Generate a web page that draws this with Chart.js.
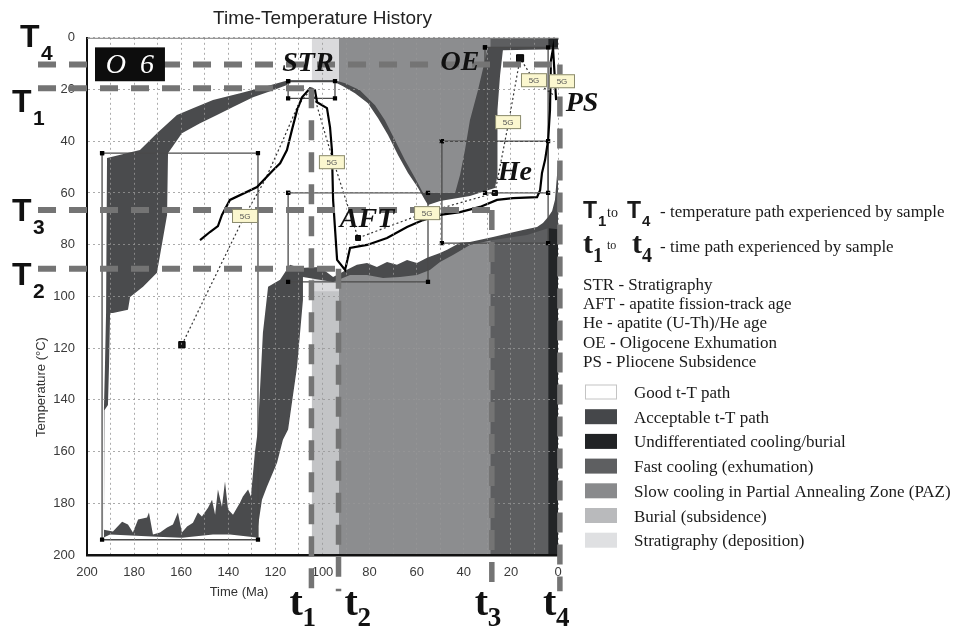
<!DOCTYPE html>
<html>
<head>
<meta charset="utf-8">
<title>Time-Temperature History</title>
<script src="https://cdn.jsdelivr.net/npm/chart.js@4.4.1/dist/chart.umd.min.js"></script>
<style>
  html, body { margin: 0; padding: 0; background: #fff; }
  #wrap { position: relative; width: 953px; height: 627px; }
</style>
</head>
<body>
<div id="wrap"><canvas id="ttChart"></canvas></div>
<script>
// Time-temperature history (HeFTy style) - values in Ma and degrees C

// Tick labels
const timeTicks = [200, 180, 160, 140, 120, 100, 80, 60, 40, 20, 0];
const tempTicks = [0, 20, 40, 60, 80, 100, 120, 140, 160, 180, 200];

// Interpreted zones (background columns)
const zoneNames = ['Stratigraphy (deposition)', 'Burial (subsidence)', 'Slow cooling in Partial Annealing Zone (PAZ)', 'Fast cooling (exhumation)', 'Undifferentiated cooling/burial'];
const zoneFrom = [104.5, 104.5, 93.0, 28.8, 4.2];
const zoneTo = [93.0, 93.0, 28.8, 4.2, 0];
const zoneTempTop = [0, 98, 0, 0, 0];
const zoneTempBottom = [200, 200, 200, 200, 200];
const zoneColors = ['#dadadc', '#c3c4c6', '#8c8d8f', '#5d5e60', '#232527'];

// Acceptable t-T path envelope (outer boundary)
const acceptTime = [191.5, 177.5, 170.3, 161.8, 155.0, 146.5, 135.0, 125.3, 114.6, 94.7, 90.4, 84.1, 77.7, 73.5, 69.2, 65.0, 60.7, 57.3,
  43.7, 41.6, 39.5, 37.4, 34.0, 31.0, 29.7, 0, 0, 4.2, 13.2, 27.6, 37.4, 44.6, 50.1, 54.4, 59.9, 67.1, 74.3, 81.1, 88.3, 95.5,
  108.3, 108.3, 110.8, 114.6, 116.8, 119.3, 123.6, 125.7, 127.4, 127.4, 130.8, 139.3, 146.5, 159.7, 170.3, 190.2, 193.2,
  192.8, 192.4, 191.9];
const acceptTemp = [46.5, 43.4, 36.9, 29.9, 27.2, 24.1, 21.4, 19.1, 16.4, 16.4, 17.6, 20.3, 26.1, 31.9, 39.6, 47.3, 54.2, 60.0,
  60.0, 53.1, 43.4, 31.9, 20.3, 8.7, 3.7, 3.7, 74.0, 73.6, 76.3, 78.2, 80.1, 84.0, 86.7, 89.8, 91.7, 92.5, 92.9, 91.7, 91.7, 94.4,
  92.5, 101.4, 127.2, 151.5, 155.4, 164.3, 173.6, 178.6, 189.0, 193.3, 192.9, 192.1, 192.1, 193.3, 192.9, 192.1, 193.3,
  143.0, 128.0, 106.0];

// Good t-T path envelope
const goodTime = [192.8, 192.6, 191.1, 190.6, 190.2, 189.0, 182.6, 181.7, 176.2, 170.3, 166.0, 165.6, 159.7, 152.0, 144.8, 138.0,
  129.5, 121.0, 115.1, 114.6, 94.7, 91.3, 86.2, 80.7, 76.4, 72.2, 67.9, 63.7, 59.4, 56.5, 55.2, 50.1, 37.4, 26.8, 25.9, 25.9,
  25.5, 24.6, 23.4, 0, 0, 1.3, 2.5, 4.2, 6.4, 8.9, 14.9, 20.4, 27.6, 37.4, 41.6, 47.1, 50.1, 55.6, 59.9, 64.1, 68.4, 72.6,
  76.9, 81.1, 85.4, 91.3, 95.5, 101.1, 109.6, 113.8, 118.0, 123.1, 125.3, 127.4, 128.7, 130.4,
  131.6, 133.8, 135.0, 136.3, 138.0, 140.1, 141.4, 142.7, 144.4, 145.6, 146.9, 148.6, 151.2, 152.9, 155.0, 157.5, 159.7,
  161.4, 163.5, 166.0, 169.0, 172.0, 173.7, 174.5, 178.3, 180.5, 182.6, 185.1, 189.0];
const goodTemp = [190.2, 144.0, 142.0, 125.0, 106.4, 106.4, 105.2, 100.2, 96.3, 90.9, 68.5, 44.6, 36.9, 33.0, 29.9, 26.8,
  23.0, 20.3, 18.3, 17.2, 17.2, 18.7, 21.4, 25.3, 31.1, 37.6, 45.4, 52.3, 58.1, 62.7, 64.7, 63.1, 61.2, 58.1, 54.2, 43.4,
  27.9, 14.5, 4.8, 4.4, 48.5, 62.7, 67.0, 69.3, 71.6, 73.2, 74.3, 75.5, 77.0, 79.0, 79.3, 82.0, 83.2, 85.1, 87.1, 85.9, 87.8, 86.7,
  88.6, 87.1, 87.8, 90.5, 92.5, 88.6, 89.0, 87.8, 93.6, 96.3, 114.1, 151.5, 160.4, 177.4,
  174.7, 177.4, 179.7, 181.7, 184.4, 182.4, 171.6, 181.3, 174.7, 184.4, 178.6, 181.7, 185.1, 183.6, 187.5, 189.0, 191.3,
  183.6, 188.2, 189.4, 191.3, 192.1, 183.6, 185.5, 186.3, 191.3, 188.2, 187.1, 190.9];

// Constraint boxes
const boxNames = ['Initial', 'STR', 'AFT', 'He', 'OE'];
const boxTimeOld = [193.6, 114.6, 114.6, 49.3, 31.0];
const boxTimeYoung = [127.4, 94.7, 55.2, 4.2, 4.2];
const boxTempLow = [44.6, 16.8, 60.0, 40.0, 3.7];
const boxTempHigh = [194.1, 23.4, 94.4, 79.4, 60.0];

// Best-fit path
const bestTime = [152.0, 147.8, 144.4, 142.7, 139.3, 127.8, 121.0, 118.0, 115.1, 113.0, 110.8, 108.7, 105.3, 103.2, 102.3, 98.1,
  96.8, 96.0, 95.5, 93.8, 90.4, 88.3, 81.1, 72.6, 64.1, 57.3, 50.1, 41.6, 33.1, 25.9, 19.1, 8.9, 7.6, 6.8, 5.5, 4.2, 3.4, 3.0, 2.1, 0.8];
const bestTemp = [78.2, 75.1, 72.8, 68.5, 62.7, 57.7, 51.2, 48.5, 43.4, 35.7, 28.0, 23.0, 19.5, 20.3, 24.9, 27.2,
  34.6, 43.4, 62.7, 85.9, 89.8, 81.3, 80.1, 77.4, 73.2, 70.5, 68.5, 67.4, 65.4, 62.7, 62.0, 61.6, 58.9, 52.3, 47.3, 39.6, 28.0, 8.7, 4.1, 24.1];

// Weighted mean (dotted) path and its fixed points
const meanTime = [159.7, 132.9, 124.4, 116.8, 110.4, 104.5, 98.1, 95.5, 84.9, 55.6, 26.8, 21.2, 16.1, 10.2, 2.1];
const meanTemp = [118.7, 68.5, 55.0, 39.6, 26.1, 19.5, 39.6, 47.3, 77.4, 67.4, 60.0, 33.8, 7.9, 16.4, 22.0];
const nodeTime = [159.7, 84.9, 26.8, 16.1];
const nodeTemp = [118.7, 77.4, 60.0, 7.9];
const nodeSize = [4.5, 3.5, 3.5, 5];

// "5G" fit labels
const fitTime = [132.9, 96.0, 55.6, 21.2, 10.2, -1.7];
const fitTemp = [68.9, 48.1, 67.8, 32.6, 16.4, 16.8];

// T1..T4 temperatures and t1..t4 times experienced by sample
const pathTemps = [19.5, 89.3, 66.6, 10.3];
const pathTimes = [104.7, 93.2, 28.1, -0.8];

// Event notes
const noteLabels = ['STR', 'OE', 'PS', 'He', 'AFT'];
const noteTime = [106.2, 41.6, -10.2, 18.3, 81.1];
const noteTemp = [10.2, 9.8, 25.7, 52.3, 70.5];

// Sample tag
const sampleName = 'O  6';
const sampleBoxTime = [196.6, 166.9];
const sampleBoxTemp = [3.7, 16.8];

// Right hand key
const abbrevText = ['STR - Stratigraphy', 'AFT - apatite fission-track age', 'He - apatite (U-Th)/He age',
  'OE - Oligocene Exhumation', 'PS - Pliocene Subsidence'];
const legendLabels = ['Good t-T path', 'Acceptable t-T path', 'Undifferentiated cooling/burial', 'Fast cooling (exhumation)',
  'Slow cooling in Partial Annealing Zone (PAZ)', 'Burial (subsidence)', 'Stratigraphy (deposition)'];
const legendColors = ['#ffffff', '#45474a', '#212325', '#5e5f61', '#898a8c', '#b9babc', '#dfe0e2'];

// layout constants (pixels) for the decorations
const GUIDE_START_TIME = 220.8;
const GUIDE_END_TEMP = 214;
const tempLabelX = [12, 12, 12, 20];
const tempLabelShift = [24, 16, 11, -17];
const timeLabelShift = [-22, 6, -17, -17];

function toPoints(times, temps) {
  return times.map((t, i) => ({ x: t, y: temps[i] }));
}

function rectPoints(x0, x1, y0, y1) {
  return [{ x: x0, y: y0 }, { x: x1, y: y0 }, { x: x1, y: y1 }, { x: x0, y: y1 }, { x: x0, y: y0 }];
}

function areaDataset(label, data, color) {
  return {
    label: label,
    data: data,
    fill: 'shape',
    backgroundColor: color,
    borderWidth: 0,
    pointRadius: 0,
    tension: 0
  };
}

function buildDatasets() {
  const layers = [];
  // background zones
  zoneNames.forEach((name, i) => {
    layers.push(areaDataset(name, rectPoints(zoneFrom[i], zoneTo[i], zoneTempTop[i], zoneTempBottom[i]), zoneColors[i]));
  });
  // envelopes
  layers.push(areaDataset('Acceptable t-T path', toPoints(acceptTime, acceptTemp), '#4a4b4d'));
  layers.push(areaDataset('Good t-T path', toPoints(goodTime, goodTemp), '#ffffff'));
  // constraint boxes
  boxNames.forEach((name, i) => {
    layers.push({
      label: name,
      data: rectPoints(boxTimeOld[i], boxTimeYoung[i], boxTempLow[i], boxTempHigh[i]),
      fill: false,
      borderColor: '#4a4a4a',
      borderWidth: 1.3,
      pointStyle: 'rect',
      pointRadius: 3,
      pointBackgroundColor: '#000',
      pointBorderWidth: 0,
      tension: 0
    });
  });
  // dotted mean path
  layers.push({
    label: 'Mean path',
    data: toPoints(meanTime, meanTemp),
    fill: false,
    borderColor: '#333',
    borderWidth: 1.2,
    borderDash: [2, 2.5],
    pointRadius: 0,
    tension: 0
  });
  // best fit path
  layers.push({
    label: 'Best fit',
    data: toPoints(bestTime, bestTemp),
    fill: false,
    borderColor: '#000',
    borderWidth: 2.2,
    pointRadius: 0,
    tension: 0
  });
  layers.push({
    label: 'Nodes',
    data: toPoints(nodeTime, nodeTemp),
    showLine: false,
    pointStyle: 'rect',
    pointRadius: nodeSize,
    pointBackgroundColor: '#111',
    pointBorderColor: '#000',
    pointBorderWidth: 1
  });
  // first in list is bottom layer
  layers.forEach((d, i) => { d.order = layers.length - i; });
  return layers;
}

// Draws the guide lines, notes, labels and the key
const overlayPlugin = {
  id: 'ttOverlay',
  afterDraw(chart) {
    const ctx = chart.ctx;
    const X = v => chart.scales.x.getPixelForValue(v);
    const Y = v => chart.scales.y.getPixelForValue(v);
    const area = chart.chartArea;
    ctx.save();

    // thin top frame
    ctx.strokeStyle = '#808080';
    ctx.lineWidth = 1;
    ctx.beginPath();
    ctx.moveTo(area.left, area.top + 0.5);
    ctx.lineTo(area.right, area.top + 0.5);
    ctx.stroke();

    // T / t guide lines
    ctx.strokeStyle = '#747474';
    ctx.lineCap = 'butt';
    for (let i = 0; i < pathTemps.length; i++) {
      const yy = Y(pathTemps[i]);
      const xx = X(pathTimes[i]);
      ctx.lineWidth = 6;
      ctx.setLineDash([18, 13]);
      ctx.beginPath();
      ctx.moveTo(X(GUIDE_START_TIME), yy);
      ctx.lineTo(xx, yy);
      ctx.stroke();
      ctx.lineWidth = 5.5;
      ctx.setLineDash([20, 12]);
      ctx.beginPath();
      ctx.moveTo(xx, yy);
      ctx.lineTo(xx, Y(GUIDE_END_TEMP));
      ctx.stroke();
    }
    ctx.setLineDash([]);

    // 5G labels
    ctx.textAlign = 'center';
    ctx.textBaseline = 'middle';
    ctx.font = '8px "Liberation Sans"';
    for (let i = 0; i < fitTime.length; i++) {
      const cx = X(fitTime[i]), cy = Y(fitTemp[i]);
      ctx.fillStyle = '#fbf7cf';
      ctx.fillRect(cx - 13, cy - 7, 26, 14);
      ctx.strokeStyle = '#8a8a6e';
      ctx.lineWidth = 1;
      ctx.strokeRect(cx - 13 + 0.5, cy - 7 + 0.5, 25, 13);
      ctx.fillStyle = '#555';
      ctx.fillText('5G', cx, cy + 0.5);
    }

    // sample tag
    const bx0 = X(sampleBoxTime[0]), bx1 = X(sampleBoxTime[1]);
    const by0 = Y(sampleBoxTemp[0]), by1 = Y(sampleBoxTemp[1]);
    ctx.fillStyle = '#0d0d0d';
    ctx.fillRect(bx0, by0, bx1 - bx0, by1 - by0);
    ctx.fillStyle = '#fff';
    ctx.font = 'italic 28px "Liberation Serif"';
    ctx.fillText(sampleName, (bx0 + bx1) / 2, (by0 + by1) / 2 + 1);

    // event notes
    ctx.fillStyle = '#111';
    ctx.font = 'bold italic 28px "Liberation Serif"';
    for (let i = 0; i < noteLabels.length; i++) {
      ctx.fillText(noteLabels[i], X(noteTime[i]), Y(noteTemp[i]));
    }

    // axis titles
    ctx.fillStyle = '#333';
    ctx.font = '13px "Liberation Sans"';
    ctx.fillText('Time (Ma)', 239, 592);
    ctx.save();
    ctx.translate(41, 387);
    ctx.rotate(-Math.PI / 2);
    ctx.fillText('Temperature (\u00b0C)', 0, 0);
    ctx.restore();

    // T labels
    ctx.textAlign = 'left';
    ctx.textBaseline = 'alphabetic';
    ctx.fillStyle = '#111';
    for (let i = 0; i < pathTemps.length; i++) {
      const base = Y(pathTemps[i]) + tempLabelShift[i];
      ctx.font = 'bold 32px "Liberation Sans"';
      ctx.fillText('T', tempLabelX[i], base);
      ctx.font = 'bold 21px "Liberation Sans"';
      ctx.fillText(String(i + 1), tempLabelX[i] + 21, base + 13);
    }
    // t labels
    for (let i = 0; i < pathTimes.length; i++) {
      const lx = X(pathTimes[i]) + timeLabelShift[i];
      ctx.font = 'bold 40px "Liberation Serif"';
      ctx.fillText('t', lx, 615);
      ctx.font = 'bold 27px "Liberation Serif"';
      ctx.fillText(String(i + 1), lx + 13, 626);
    }

    // key: T1 to T4 / t1 to t4
    ctx.fillStyle = '#1a1a1a';
    ctx.font = 'bold 23px "Liberation Sans"';
    ctx.fillText('T', 583, 218);
    ctx.fillText('T', 627, 218);
    ctx.font = 'bold 15px "Liberation Sans"';
    ctx.fillText('1', 598, 226);
    ctx.fillText('4', 642, 226);
    ctx.font = '14px "Liberation Serif"';
    ctx.fillText('to', 607, 217);
    ctx.font = '17px "Liberation Serif"';
    ctx.fillText('- temperature path experienced by sample', 660, 217);

    ctx.font = 'bold 30px "Liberation Serif"';
    ctx.fillText('t', 583, 253);
    ctx.fillText('t', 632, 253);
    ctx.font = 'bold 20px "Liberation Serif"';
    ctx.fillText('1', 593, 262);
    ctx.fillText('4', 642, 262);
    ctx.font = '12px "Liberation Serif"';
    ctx.fillText('to', 607, 249);
    ctx.font = '17px "Liberation Serif"';
    ctx.fillText('- time path experienced by sample', 660, 252);

    abbrevText.forEach((txt, i) => {
      ctx.fillText(txt, 583, 290 + i * 19.2);
    });

    // colour key
    legendLabels.forEach((txt, i) => {
      const cy = 392 + i * 24.7;
      ctx.fillStyle = legendColors[i];
      ctx.fillRect(585, cy - 7.5, 32, 15);
      if (i === 0) {
        ctx.strokeStyle = '#c4c4c4';
        ctx.lineWidth = 1;
        ctx.strokeRect(585.5, cy - 7, 31, 14);
      }
      ctx.fillStyle = '#1a1a1a';
      ctx.fillText(txt, 634, cy + 6);
    });

    ctx.restore();
  }
};

function initChart() {
  const canvas = document.getElementById('ttChart');
  const tickFont = { family: 'Liberation Sans', size: 13 };
  return new Chart(canvas.getContext('2d'), {
    type: 'line',
    data: { datasets: buildDatasets() },
    options: {
      responsive: true,
      maintainAspectRatio: false,
      animation: false,
      devicePixelRatio: 1,
      events: [],
      layout: { padding: { left: 0, right: 395, top: 0, bottom: 0 } },
      scales: {
        x: {
          type: 'linear',
          min: 0,
          max: 200,
          reverse: true,
          afterFit: s => { s.height = 72; },
          ticks: {
            stepSize: 10,
            autoSkip: false,
            maxRotation: 0,
            padding: 10,
            color: '#3a3a3a',
            font: tickFont,
            callback: v => (timeTicks.includes(v) ? v : '')
          },
          grid: { color: 'rgba(150,150,150,0.8)', lineWidth: 1, drawTicks: false, z: 1 },
          border: { color: '#111', width: 2.5, dash: [2, 3], z: 2 }
        },
        y: {
          type: 'linear',
          min: 0,
          max: 200,
          reverse: true,
          afterFit: s => { s.width = 87; },
          ticks: {
            stepSize: 20,
            padding: 12,
            color: '#3a3a3a',
            font: tickFont,
            callback: v => (tempTicks.includes(v) ? v : '')
          },
          grid: { color: 'rgba(150,150,150,0.8)', lineWidth: 1, drawTicks: false, z: 1 },
          border: { color: '#111', width: 2, dash: [2, 3], z: 2 }
        }
      },
      plugins: {
        legend: { display: false },
        tooltip: { enabled: false },
        title: {
          display: true,
          text: 'Time-Temperature History',
          fullSize: false,
          color: '#222',
          font: { family: 'Liberation Sans', size: 19, weight: 'normal' },
          padding: { top: 7, bottom: 8 }
        }
      }
    },
    plugins: [overlayPlugin]
  });
}

document.addEventListener('DOMContentLoaded', initChart);
</script>
</body>
</html>
